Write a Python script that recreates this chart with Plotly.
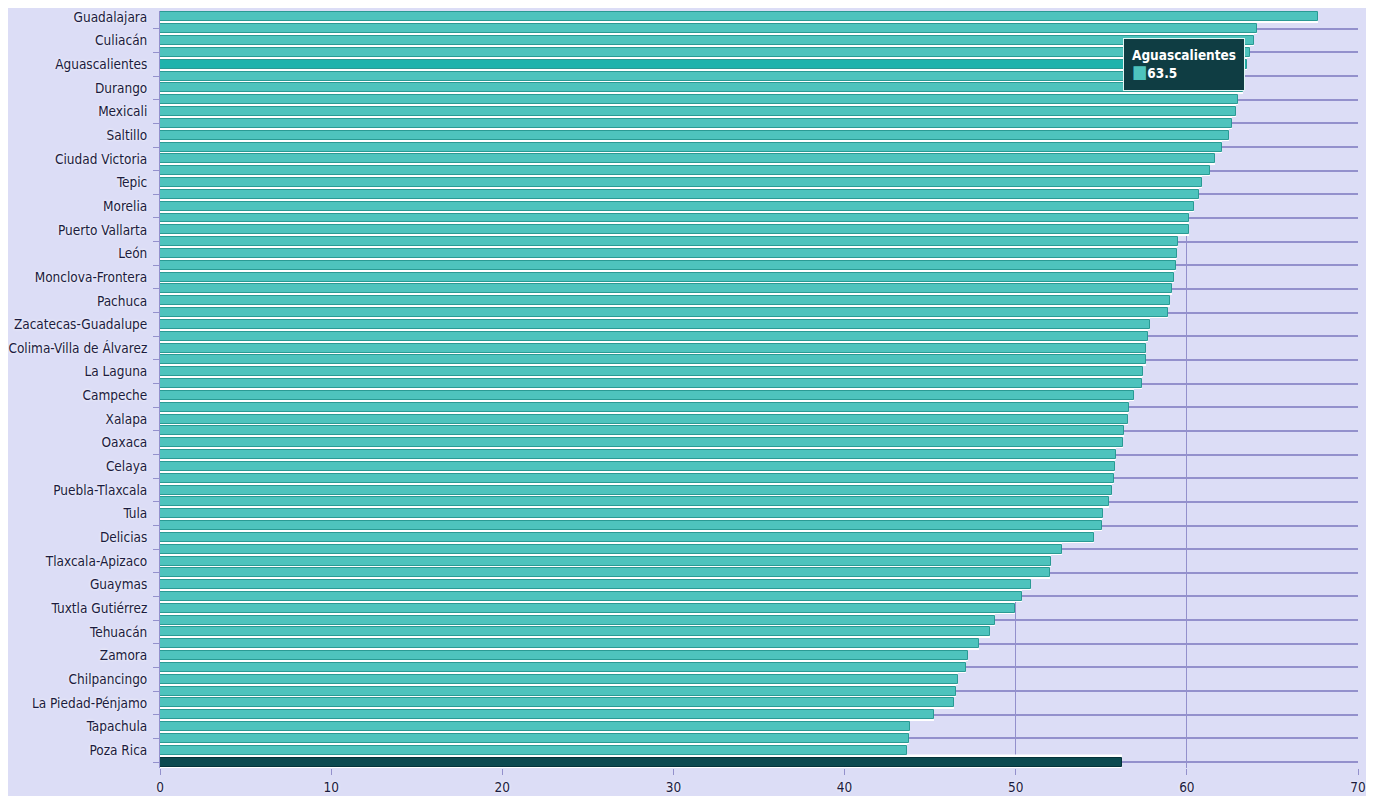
import plotly.graph_objects as go

# Cities (only every second row carries a visible label in the reference)
labeled_cities = [
    "Guadalajara", "Culiacán", "Aguascalientes", "Durango", "Mexicali", "Saltillo",
    "Ciudad Victoria", "Tepic", "Morelia", "Puerto Vallarta", "León", "Monclova-Frontera",
    "Pachuca", "Zacatecas-Guadalupe", "Colima-Villa de Álvarez", "La Laguna", "Campeche",
    "Xalapa", "Oaxaca", "Celaya", "Puebla-Tlaxcala", "Tula", "Delicias", "Tlaxcala-Apizaco",
    "Guaymas", "Tuxtla Gutiérrez", "Tehuacán", "Zamora", "Chilpancingo", "La Piedad-Pénjamo",
    "Tapachula", "Poza Rica",
]

# Values of all city bars, top to bottom
values = [
    67.65, 64.1, 63.9, 63.7, 63.5, 63.35, 63.3, 63.0, 62.85, 62.65,
    62.45, 62.05, 61.65, 61.35, 60.9, 60.7, 60.4, 60.15, 60.1, 59.5,
    59.45, 59.35, 59.25, 59.15, 59.0, 58.9, 57.85, 57.75, 57.6, 57.6,
    57.45, 57.4, 56.93, 56.64, 56.58, 56.33, 56.25, 55.86, 55.8, 55.74,
    55.6, 55.47, 55.12, 55.02, 54.58, 52.72, 52.05, 51.98, 50.9, 50.37,
    49.97, 48.79, 48.5, 47.86, 47.24, 47.1, 46.6, 46.49, 46.4, 45.23,
    43.82, 43.75, 43.66,
]

# Overall (dark) bar at the bottom
average_value = 56.2

x_ticks = [0, 10, 20, 30, 40, 50, 60, 70]
highlight_city = "Aguascalientes"

# ---------------------------------------------------------------
n = len(values)
label_rows = list(range(0, n, 2))
row_names = [""] * n
for r, name in zip(label_rows, labeled_cities):
    row_names[r] = name
rows = list(range(n))
avg_row = n
hi = row_names.index(highlight_city)

BG = "#dcddf6"
GRID = "#9390cc"
TEAL = "#4ec3bd"
TEAL_EDGE = "#2a9a94"
TEAL_HI = "#1fb3ac"
DARK = "#0c4a50"
FONT = "DejaVu Sans Condensed, Liberation Sans Narrow, Liberation Sans, sans-serif"
TXT = "#1b1b3e"
HALO = "0px 0px 3px white"

bar_colors = [TEAL_HI if i == hi else TEAL for i in rows]

fig = go.Figure()
# white halo behind bars
fig.add_trace(go.Bar(
    x=values + [average_value], y=rows + [avg_row], orientation="h",
    width=0.97, marker=dict(color="white", line=dict(color="white", width=1.5)),
    hoverinfo="skip", showlegend=False,
))
fig.add_trace(go.Bar(
    x=values, y=rows, orientation="h", width=0.76,
    marker=dict(color=bar_colors, line=dict(color=TEAL_EDGE, width=1)),
    showlegend=False,
))
fig.add_trace(go.Bar(
    x=[average_value], y=[avg_row], orientation="h", width=0.76,
    marker=dict(color=DARK, line=dict(color="#05333a", width=1)),
    showlegend=False,
))

fig.add_annotation(
    x=values[hi], y=hi, xref="x", yref="y", xanchor="right", yanchor="middle",
    xshift=-2, showarrow=False, align="left",
    text=(f"<b>{highlight_city}</b><br>"
          f"<span style='color:{TEAL};font-size:18px'>■</span><b>{values[hi]:.1f}</b>"),
    font=dict(family=FONT, size=13.5, color="white"),
    bgcolor="#0f3d43", bordercolor="#dff4f3", borderwidth=1, borderpad=8,
)

# The page body adds an 8px offset, so the figure is sized to the visible area
fig.update_layout(
    template="none",
    width=1358, height=788,
    paper_bgcolor=BG, plot_bgcolor=BG,
    margin=dict(l=152, r=8, t=3, b=28),
    barmode="overlay", bargap=0,
    font=dict(family=FONT, color=TXT),
    xaxis=dict(
        range=[0, 70], tickvals=x_ticks, ticks="outside", ticklen=6,
        tickcolor=GRID, showgrid=True, gridcolor=GRID, gridwidth=1,
        zeroline=False, showline=False, automargin=False,
        ticklabelstandoff=1,
        tickfont=dict(family=FONT, size=13.5, color=TXT, shadow=HALO),
    ),
    yaxis=dict(
        range=[n + 0.5, -0.5], tickvals=label_rows, ticktext=labeled_cities,
        ticks="", showgrid=False, zeroline=False, automargin=False,
        showline=True, linecolor=GRID, linewidth=1, ticklabelstandoff=9,
        ticklabeloverflow="allow",
        tickfont=dict(family=FONT, size=13.5, color=TXT, shadow=HALO),
        minor=dict(tickmode="array", tickvals=list(range(1, n + 1, 2)),
                   ticks="outside", ticklen=6, tickcolor=GRID,
                   showgrid=True, gridcolor=GRID, gridwidth=1.5),
    ),
)

fig.write_html("out.html")
